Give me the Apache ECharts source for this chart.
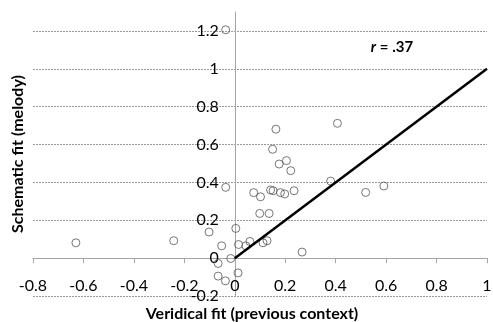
<!DOCTYPE html>
<html><head><meta charset="utf-8">
<script src="https://cdn.jsdelivr.net/npm/echarts@6/dist/echarts.min.js"></script>
<style>html,body{margin:0;padding:0;background:#fff}#c{width:493px;height:322px}</style>
</head><body><div id="c"></div>
<script>
const xTitle = 'Veridical fit (previous context)';
const yTitle = 'Schematic fit (melody)';
const rLabel = '.37';
const veridical = [-0.036,-0.630,-0.242,-0.102,0.004,-0.052,0.015,0.044,0.060,0.112,0.128,-0.016,-0.066,-0.066,-0.037,0.013,0.099,0.136,-0.036,0.075,0.102,0.142,0.152,0.181,0.198,0.235,0.163,0.150,0.176,0.205,0.222,0.407,0.380,0.519,0.591,0.267];
const schematic = [1.206,0.081,0.092,0.138,0.157,0.065,0.072,0.065,0.088,0.081,0.092,-0.002,-0.028,-0.095,-0.120,-0.078,0.236,0.236,0.374,0.346,0.324,0.360,0.356,0.346,0.339,0.356,0.681,0.575,0.497,0.515,0.462,0.712,0.407,0.347,0.381,0.032];
const fitLineX = [0, 1];
const fitLineY = [0, 1];

const FONT = 'Lato';
const GRID = {left: 33, right: 6, top: 12, bottom: 26};
const W = 493, H = 322;
const XMIN = -0.8, XMAX = 1, YMIN = -0.2, YMAX = 1.3;
const plotW = W - GRID.left - GRID.right, plotH = H - GRID.top - GRID.bottom;
const yAxisOffset = -((0 - XMIN) / (XMAX - XMIN)) * plotW;
const xAxisOffset = -((0 - YMIN) / (YMAX - YMIN)) * plotH;

const chart = echarts.init(document.getElementById('c'), null, {renderer: 'canvas'});
chart.setOption({
  animation: false,
  backgroundColor: '#fff',
  grid: Object.assign({containLabel: false, outerBoundsMode: 'none'}, GRID),
  xAxis: {
    type: 'value', min: XMIN, max: XMAX, interval: 0.2, offset: xAxisOffset,
    axisLine: {onZero: false, lineStyle: {color: '#a6a6a6', width: 1}},
    axisTick: {show: true, length: 5, inside: false, lineStyle: {color: '#a6a6a6'}},
    axisLabel: {interval: 0, margin: 20, color: '#000', fontFamily: FONT, fontSize: 16,
      hideOverlap: false,
      formatter: v => String(Math.round(v * 10) / 10)},
    splitLine: {show: false}
  },
  yAxis: {
    type: 'value', min: YMIN, max: YMAX, interval: 0.2, offset: yAxisOffset,
    axisLine: {onZero: false, lineStyle: {color: '#a6a6a6', width: 1}},
    axisTick: {show: false},
    axisLabel: {interval: 0, margin: 16, color: '#000', fontFamily: FONT, fontSize: 16, showMaxLabel: false,
      hideOverlap: false, padding: [4, 0, 0, 0],
      formatter: v => (Math.abs(v - 1.3) < 1e-6 ? '' : String(Math.round(v * 10) / 10))},
    splitLine: {show: true, showMaxLine: false, showMinLine: true,
      lineStyle: {color: '#9a9a9a', width: 1, type: [2, 1]}}
  },
  series: [
    {
      type: 'scatter',
      data: veridical.map((x, i) => [x, schematic[i]]),
      symbol: 'circle', symbolSize: 8,
      itemStyle: {color: 'rgba(255,255,255,0)', borderColor: '#555', borderWidth: 1},
      z: 3
    },
    {
      type: 'line',
      data: fitLineX.map((x, i) => [x, fitLineY[i]]),
      showSymbol: false, symbol: 'none',
      lineStyle: {color: '#000', width: 2.5},
      z: 4
    }
  ],
  graphic: [
    {type: 'text', x: 252, y: 314,
      style: {text: xTitle, font: 'bold 16px ' + FONT, fill: '#000', align: 'center', verticalAlign: 'middle'}},
    {type: 'text', x: 18, y: 154, rotation: Math.PI / 2,
      style: {text: yTitle, font: 'bold 16px ' + FONT, fill: '#000', align: 'center', verticalAlign: 'middle'}},
    {type: 'text', x: 392, y: 47,
      style: {
        text: '{i|r}{b| = ' + rLabel + '}',
        align: 'center', verticalAlign: 'middle',
        rich: {
          i: {font: 'italic bold 15px ' + FONT, fill: '#000'},
          b: {font: 'bold 15px ' + FONT, fill: '#000'}
        }
      }}
  ]
});
</script></body></html>
